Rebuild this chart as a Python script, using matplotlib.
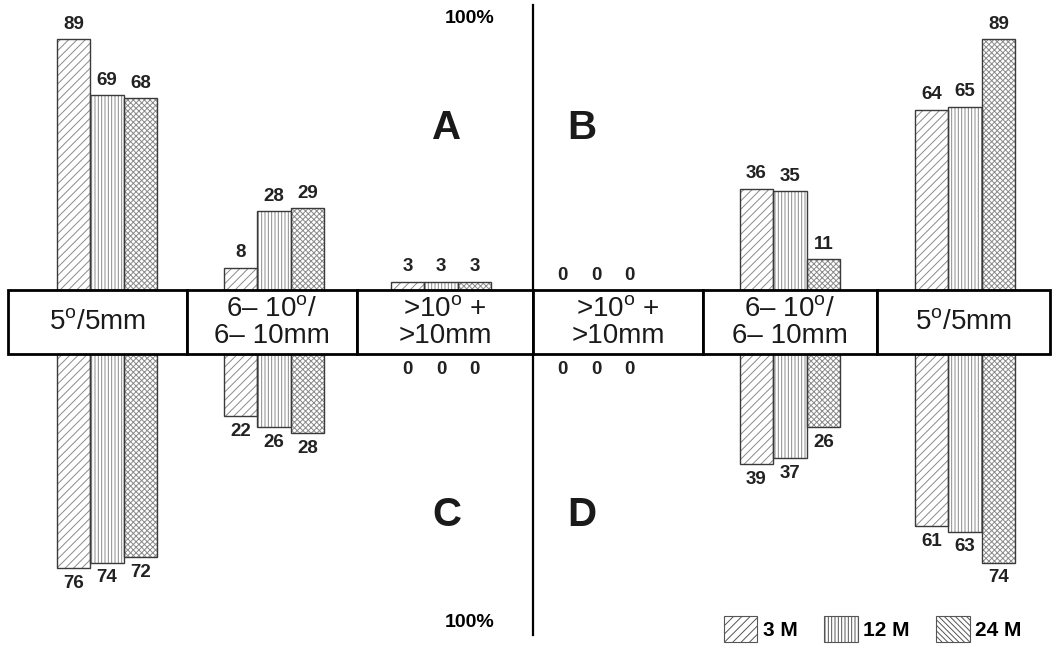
import matplotlib.pyplot as plt
from matplotlib.patches import Rectangle, Patch

plt.rcParams["font.family"] = ["Liberation Sans", "DejaVu Sans"]
plt.rcParams["mathtext.fontset"] = "custom"
plt.rcParams["mathtext.rm"] = "Liberation Sans"
plt.rcParams["hatch.linewidth"] = 0.7

# categories in the central band, left to right
categories = [
    "5$^{\\mathrm{o}}$/5mm",
    "6\u2013 10$^{\\mathrm{o}}$/\n6\u2013 10mm",
    ">10$^{\\mathrm{o}}$ +\n>10mm",
    ">10$^{\\mathrm{o}}$ +\n>10mm",
    "6\u2013 10$^{\\mathrm{o}}$/\n6\u2013 10mm",
    "5$^{\\mathrm{o}}$/5mm",
]
series = ["3 M", "12 M", "24 M"]

# upper half (A on the left three boxes, B on the right three)
upper_3m = [89, 8, 3, 0, 36, 64]
upper_12m = [69, 28, 3, 0, 35, 65]
upper_24m = [68, 29, 3, 0, 11, 89]
# lower half (C left, D right)
lower_3m = [76, 22, 0, 0, 39, 61]
lower_12m = [74, 26, 0, 0, 37, 63]
lower_24m = [72, 28, 0, 0, 26, 74]

upper = [upper_3m, upper_12m, upper_24m]
lower = [lower_3m, lower_12m, lower_24m]

hatches = ["////", "|||||", "xxxxxx"]
legend_hatches = ["////", "|||||", "\\\\\\\\\\\\"]

# layout (x in figure pixels, y in percent)
box_edges = [8, 187, 357, 533, 703, 877, 1050]
shift = [9.5, 2, -4, -22, 0, 1.5]
width = 33.5
gap = 11.35        # half height of the central band

fig = plt.figure(figsize=(10.56, 6.47), dpi=100)
ax = fig.add_axes([0, 0, 1, 1])
ax.set_xlim(0, 1056)
ax.set_ylim(-115.2, 114.2)
ax.axis("off")

# centre divider
ax.plot([533, 533], [-111, 112.4], color="black", lw=1.6, zorder=1)

for s in range(3):
    for i in range(len(categories)):
        mid = (box_edges[i] + box_edges[i + 1]) / 2
        x = mid + shift[i] + (s - 1) * width
        for v, sign in ((upper[s][i], 1), (lower[s][i], -1)):
            base = sign * gap
            if v > 0:
                ax.bar(x, sign * v, width, bottom=base, color="white",
                       hatch=hatches[s], edgecolor="#8a8a8a", linewidth=0, zorder=2)
                ax.bar(x, sign * v, width, bottom=base, fill=False,
                       edgecolor="#3a3a3a", linewidth=1.0, zorder=3)
            ty = base + sign * (v + 2.3)
            ax.text(x, ty, str(v), ha="center", va="bottom" if sign > 0 else "top",
                    fontsize=13.5, fontweight="bold", color="#222222")

# central band of boxes
for i, lab in enumerate(categories):
    left, right = box_edges[i], box_edges[i + 1]
    ax.add_patch(Rectangle((left, -gap), right - left, 2 * gap, facecolor="white",
                           edgecolor="black", linewidth=2, zorder=4))
    ax.text((left + right) / 2, -0.3, lab, ha="center", va="center", fontsize=20,
            linespacing=1.0, color="#1a1a1a", zorder=5)

for lab, x, y in (("A", 447, 68.8), ("B", 582, 68.8),
                  ("C", 447, -68.4), ("D", 582, -68.4)):
    ax.text(x, y, lab, ha="center", va="center", fontsize=29,
            fontweight="bold", color="#1a1a1a")

ax.text(470, 107.8, "100%", ha="center", va="center", fontsize=14, fontweight="bold")
ax.text(470, -106.4, "100%", ha="center", va="center", fontsize=14, fontweight="bold")

handles = [Patch(facecolor="white", edgecolor="#555555", hatch=h, linewidth=0.8)
           for h in legend_hatches]
leg = ax.legend(handles, series, ncol=3, frameon=False, loc="lower right",
                bbox_to_anchor=(0.985, -0.022), handlelength=1.6, handleheight=1.6,
                handletextpad=0.25, columnspacing=1.3,
                prop={"weight": "bold", "size": 15})

fig.savefig("out.png", dpi=100)
